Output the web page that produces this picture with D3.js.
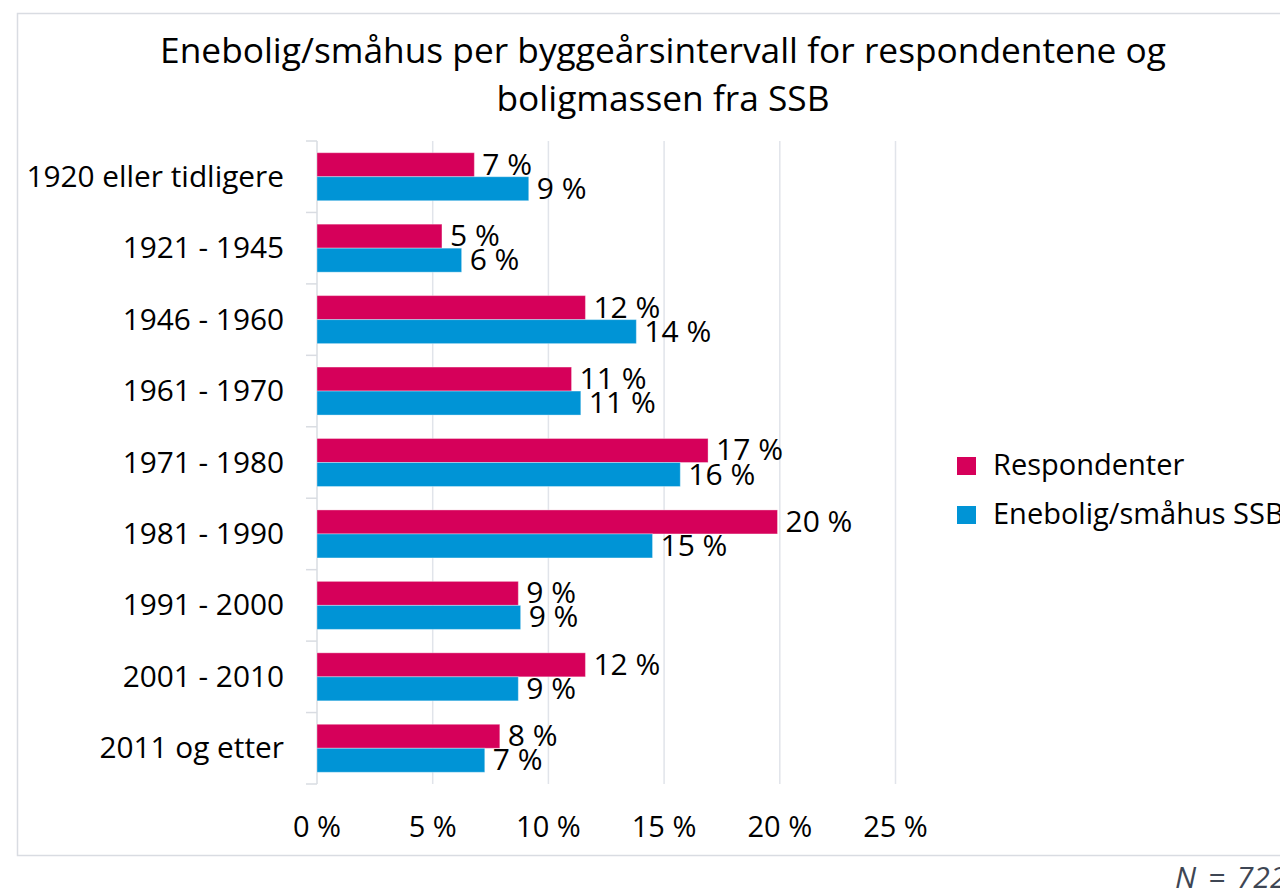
<!DOCTYPE html>
<html>
<head>
<meta charset="utf-8">
<script src="https://cdn.jsdelivr.net/npm/d3@7"></script>
<style>
  body { margin: 0; background: #ffffff; }
  svg text { font-family: "Open Sans", Lato, sans-serif; fill: #000; }
</style>
</head>
<body>
<div id="chart"></div>
<script>
// data
var categories = ["1920 eller tidligere", "1921 - 1945", "1946 - 1960", "1961 - 1970",
                  "1971 - 1980", "1981 - 1990", "1991 - 2000", "2001 - 2010", "2011 og etter"];
var seriesNames = ["Respondenter", "Enebolig/småhus SSB"];
var respondenter = [6.8, 5.4, 11.6, 11.0, 16.9, 19.9, 8.7, 11.6, 7.9];
var ssb = [9.15, 6.25, 13.8, 11.4, 15.7, 14.5, 8.8, 8.7, 7.25];
var respLabels = ["7 %", "5 %", "12 %", "11 %", "17 %", "20 %", "9 %", "12 %", "8 %"];
var ssbLabels = ["9 %", "6 %", "14 %", "11 %", "16 %", "15 %", "9 %", "9 %", "7 %"];
var xTicks = [0, 5, 10, 15, 20, 25];
var titleLines = ["Enebolig/småhus per byggeårsintervall for respondentene og", "boligmassen fra SSB"];
var note = "N = 722";

var colors = ["#d6005a", "#0094d6"];

var W = 1280, H = 894;
var plotLeft = 317, plotTop = 141, plotBottom = 784;

var svg = d3.select("#chart").append("svg")
  .attr("width", W)
  .attr("height", H);

// chart frame
svg.append("rect")
  .attr("x", 17.5).attr("y", 13.5)
  .attr("width", 1300).attr("height", 842)
  .attr("fill", "#fff")
  .attr("stroke", "#d9dce2")
  .attr("stroke-width", 1.5);

// title
svg.selectAll(".title")
  .data(titleLines)
  .enter()
  .append("text")
  .attr("class", "title")
  .attr("x", 663)
  .attr("y", function(d, i){ return 63 + i * 48; })
  .attr("text-anchor", "middle")
  .attr("font-size", 35.3)
  .text(function(d){ return d; });

var x = d3.scaleLinear().domain([0, 25]).range([plotLeft, plotLeft + 5 * 115.7]);
var y = d3.scaleBand().domain(categories).range([plotTop, plotBottom])
  .paddingInner(0.328).paddingOuter(0.164);
var ySub = d3.scaleBand().domain([0, 1]).range([0, y.bandwidth()]);

// gridlines
svg.selectAll(".grid")
  .data(xTicks.slice(1))
  .enter()
  .append("line")
  .attr("class", "grid")
  .attr("x1", function(d){ return x(d); })
  .attr("x2", function(d){ return x(d); })
  .attr("y1", plotTop)
  .attr("y2", plotBottom)
  .attr("stroke", "#e1e4ea")
  .attr("stroke-width", 1.5);

// x tick labels
svg.selectAll(".xlab")
  .data(xTicks)
  .enter()
  .append("text")
  .attr("class", "xlab")
  .attr("x", function(d){ return x(d); })
  .attr("y", 837)
  .attr("text-anchor", "middle")
  .attr("font-size", 29)
  .text(function(d){ return d + " %"; });

// y axis with ticks between categories
var yAxis = svg.append("g");
yAxis.append("line")
  .attr("x1", plotLeft).attr("x2", plotLeft)
  .attr("y1", plotTop).attr("y2", plotBottom)
  .attr("stroke", "#d9dce2").attr("stroke-width", 1.5);
var bounds = d3.range(categories.length + 1).map(function(i){
  return plotTop + i * y.step();
});
yAxis.selectAll(".ytick")
  .data(bounds)
  .enter()
  .append("line")
  .attr("class", "ytick")
  .attr("x1", plotLeft - 11).attr("x2", plotLeft)
  .attr("y1", function(d){ return d; })
  .attr("y2", function(d){ return d; })
  .attr("stroke", "#d9dce2").attr("stroke-width", 1.5);

svg.selectAll(".ylab")
  .data(categories)
  .enter()
  .append("text")
  .attr("class", "ylab")
  .attr("x", 284)
  .attr("y", function(d){ return y(d) + y.bandwidth() / 2 + 10; })
  .attr("text-anchor", "end")
  .attr("font-size", 29.8)
  .text(function(d){ return d; });

// bars
var series = [respondenter, ssb];
var labels = [respLabels, ssbLabels];
series.forEach(function(vals, s){
  svg.selectAll(".bar" + s)
    .data(vals)
    .enter()
    .append("rect")
    .attr("class", "bar" + s)
    .attr("x", x(0))
    .attr("y", function(d, i){ return y(categories[i]) + ySub(s); })
    .attr("width", function(d){ return x(d) - x(0); })
    .attr("height", ySub.bandwidth())
    .attr("fill", colors[s])
    .attr("stroke", "#ffffff")
    .attr("stroke-opacity", 0.35)
    .attr("stroke-width", 1);

  svg.selectAll(".lab" + s)
    .data(vals)
    .enter()
    .append("text")
    .attr("class", "lab" + s)
    .attr("x", function(d){ return x(d) + 8; })
    .attr("y", function(d, i){ return y(categories[i]) + ySub(s) + ySub.bandwidth() / 2 + 10; })
    .attr("font-size", 30)
    .text(function(d, i){ return labels[s][i]; });
});

// legend
var legend = svg.selectAll(".legend")
  .data(seriesNames)
  .enter()
  .append("g")
  .attr("class", "legend")
  .attr("transform", function(d, i){ return "translate(957," + (457 + i * 49) + ")"; });
legend.append("rect")
  .attr("width", 19).attr("height", 18)
  .attr("fill", function(d, i){ return colors[i]; });
legend.append("text")
  .attr("x", 36)
  .attr("y", 18)
  .attr("font-size", 29)
  .text(function(d){ return d; });

// note
svg.append("text")
  .attr("x", 1175)
  .attr("y", 888)
  .attr("font-size", 30)
  .attr("font-style", "italic")
  .style("fill", "#3e4654")
  .style("word-spacing", "4px")
  .text(note);
</script>
</body>
</html>
